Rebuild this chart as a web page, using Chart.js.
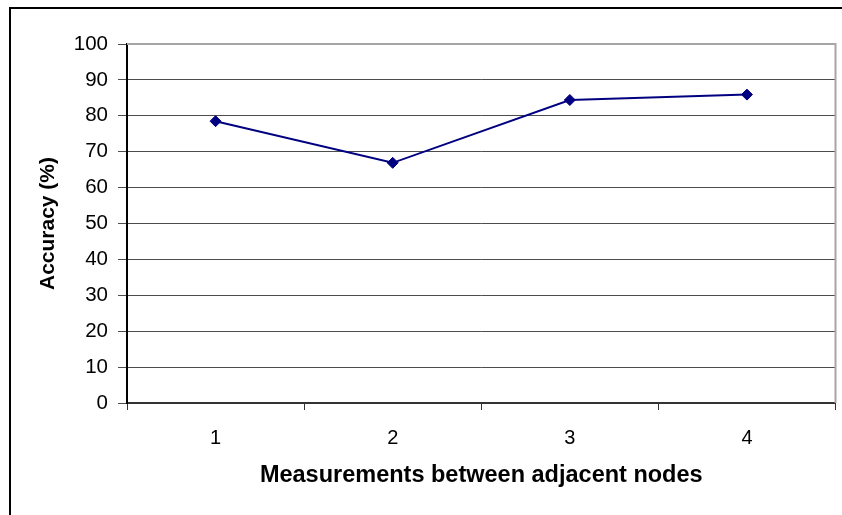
<!DOCTYPE html>
<html>
<head>
<meta charset="utf-8">
<script src="https://cdn.jsdelivr.net/npm/chart.js@4"></script>
<style>
  html, body { margin: 0; padding: 0; background: #ffffff; }
  #wrap { width: 842px; height: 515px; position: relative; }
</style>
</head>
<body>
<div id="wrap"><canvas id="chart" width="842" height="515"></canvas></div>
<script>
// Accuracy by number of measurements between adjacent nodes
const categories = ['1', '2', '3', '4'];
const accuracy = [78.5, 66.9, 84.4, 85.9];
const yTicks = [0, 10, 20, 30, 40, 50, 60, 70, 80, 90, 100];

const FONT = "'Liberation Sans', Arial, sans-serif";

// Outer frame of the figure and the grey plot-area border (top and right)
const framePlugin = {
  id: 'frame',
  beforeDraw(chart) {
    const ctx = chart.ctx;
    ctx.save();
    ctx.fillStyle = '#ffffff';
    ctx.fillRect(0, 0, chart.width, chart.height);
    ctx.strokeStyle = '#000000';
    ctx.lineWidth = 2;
    ctx.beginPath();
    ctx.moveTo(10, chart.height + 2);
    ctx.lineTo(10, 8);
    ctx.lineTo(chart.width + 2, 8);
    ctx.stroke();
    ctx.restore();
  },
  beforeDatasetsDraw(chart) {
    const { ctx, chartArea: a } = chart;
    ctx.save();
    ctx.strokeStyle = '#a6a6a6';
    ctx.lineWidth = 2;
    ctx.beginPath();
    ctx.moveTo(a.left, a.top);
    ctx.lineTo(a.right, a.top);
    ctx.lineTo(a.right, a.bottom);
    ctx.stroke();
    ctx.restore();
  }
};

new Chart(document.getElementById('chart'), {
  type: 'line',
  data: {
    labels: categories,
    datasets: [{
      label: 'Accuracy',
      data: accuracy,
      borderColor: '#000080',
      backgroundColor: '#000080',
      borderWidth: 2,
      pointStyle: 'rectRot',
      pointRadius: 5.5,
      pointHoverRadius: 5.5,
      pointBorderWidth: 1,
      tension: 0,
      fill: false
    }]
  },
  options: {
    responsive: false,
    animation: false,
    events: [],
    layout: { padding: { left: 0, top: 44, right: 5, bottom: 0 } },
    plugins: {
      legend: { display: false },
      tooltip: { enabled: false }
    },
    scales: {
      x: {
        type: 'category',
        offset: true,
        afterFit(scale) { scale.height = 112; },
        grid: {
          offset: true,
          drawOnChartArea: false,
          drawTicks: true,
          tickLength: 7,
          color: '#333333',
          lineWidth: 1
        },
        border: { display: true, color: '#333333', width: 2 },
        ticks: {
          color: '#000000',
          padding: 16,
          font: { family: FONT, size: 20 }
        },
        title: {
          display: true,
          text: 'Measurements between adjacent nodes',
          color: '#000000',
          font: { family: FONT, size: 23.5, weight: 'bold' },
          padding: { top: 0, bottom: 25 }
        }
      },
      y: {
        min: 0,
        max: 100,
        afterFit(scale) { scale.width = 127; },
        afterBuildTicks(scale) {
          scale.ticks = yTicks.map(v => ({ value: v }));
        },
        grid: {
          drawTicks: true,
          tickLength: 9,
          color: '#4d4d4d',
          lineWidth: 1
        },
        border: { display: true, color: '#000000', width: 2 },
        ticks: {
          color: '#000000',
          padding: 10,
          font: { family: FONT, size: 20.5 }
        },
        title: {
          display: true,
          text: 'Accuracy (%)',
          color: '#000000',
          font: { family: FONT, size: 21, weight: 'bold' },
          padding: { top: 36, bottom: 0 }
        }
      }
    }
  },
  plugins: [framePlugin]
});
</script>
</body>
</html>
